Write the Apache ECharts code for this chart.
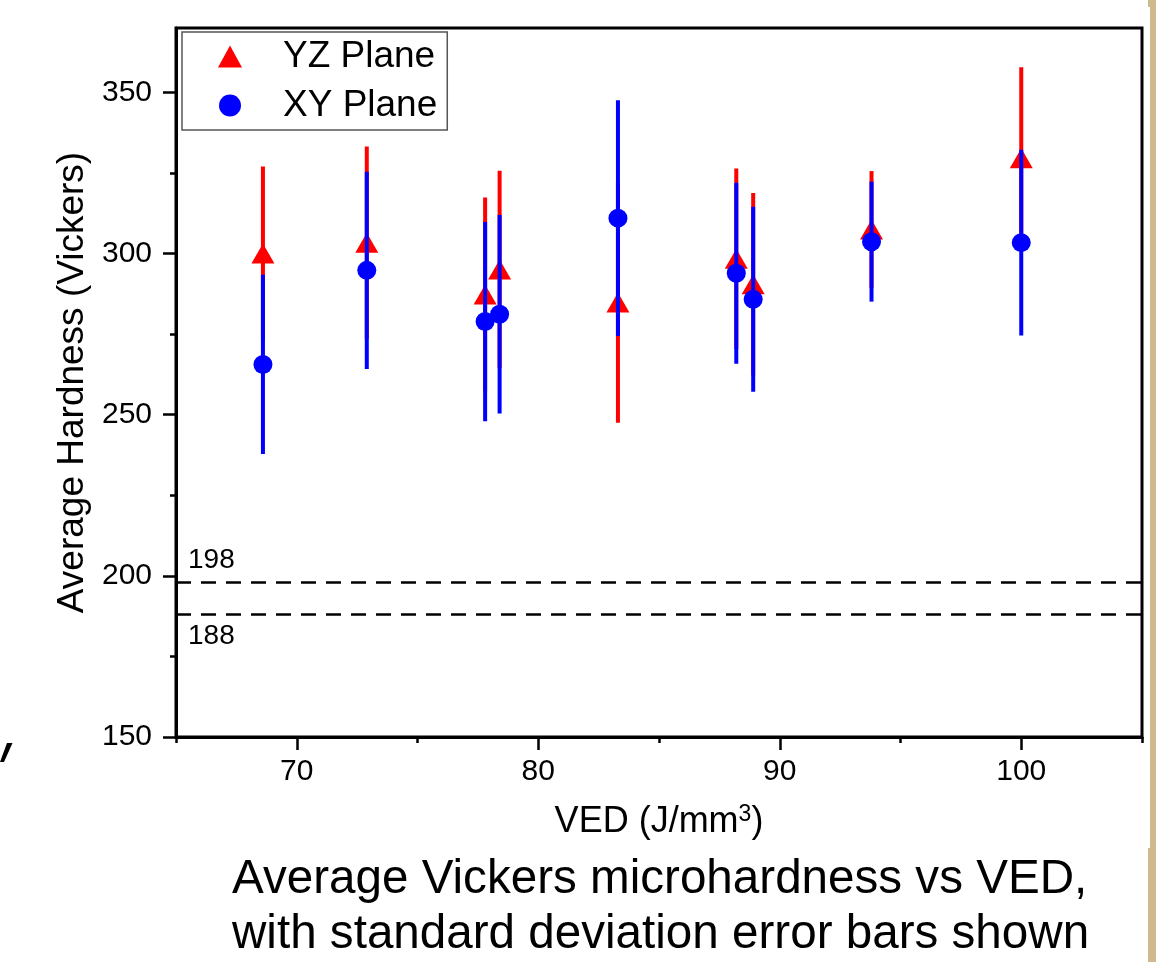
<!DOCTYPE html>
<html>
<head>
<meta charset="utf-8">
<script src="https://cdn.jsdelivr.net/npm/echarts@6/dist/echarts.min.js"></script>
<style>
  html, body { margin: 0; padding: 0; background: #fff; }
  #chart { width: 1175px; height: 962px; }
</style>
</head>
<body>
<div id="chart"></div>
<script>
// VED (J/mm3) of each build
const ved = [68.6, 72.9, 77.8, 78.4, 83.3, 88.2, 88.9, 93.8, 100.0]
// YZ plane: mean hardness and standard deviation
const yzMean = [300.0, 303.4, 287.3, 295.1, 284.8, 298.4, 290.5, 307.5, 329.6]
const yzSd = [27.0, 29.8, 30.1, 30.6, 37.3, 28.0, 28.3, 18.1, 28.2]
// XY plane: mean hardness and standard deviation
const xyMean = [265.6, 294.8, 278.9, 281.2, 311.0, 293.9, 285.8, 303.7, 303.4]
const xySd = [27.8, 30.6, 30.9, 30.8, 36.6, 28.1, 28.7, 18.6, 28.8]
// reference hardness lines
const refLines = [198, 188]

const xMajorTicks = [70, 80, 90, 100]
const xMinorTicks = [65, 75, 85, 95, 105]
const yMajorTicks = [150, 200, 250, 300, 350]
const yMinorTicks = [175, 225, 275, 325]

const FONT = '"Liberation Sans", Arial, sans-serif'

const chart = echarts.init(document.getElementById('chart'))

const errorBar = (color) => (params, api) => {
  const x = api.value(0)
  const lo = api.coord([x, api.value(1)])
  const hi = api.coord([x, api.value(2)])
  return {
    type: 'line',
    shape: { x1: lo[0], y1: lo[1], x2: hi[0], y2: hi[1] },
    style: { stroke: color, lineWidth: 4 }
  }
}

const barData = (mean, sd) => ved.map((v, i) => [v, mean[i] - sd[i], mean[i] + sd[i]])
const pointData = (mean) => ved.map((v, i) => [v, mean[i]])

const minorAxis = (min, max, ticks, position) => ({
  type: 'value',
  min,
  max,
  position,
  axisLine: { show: false },
  axisLabel: { show: false },
  splitLine: { show: false },
  axisTick: { show: true, customValues: ticks, length: 6, lineStyle: { color: '#000', width: 2.5 } }
})

const option = {
  animation: false,
  textStyle: { fontFamily: FONT },
  title: {
    text: 'Average Vickers microhardness vs VED,\nwith standard deviation error bars shown',
    left: 232,
    top: 852,
    padding: 0,
    textStyle: { fontFamily: FONT, fontSize: 47.6, fontWeight: 'normal', color: '#000', lineHeight: 55 }
  },
  legend: {
    data: ['YZ Plane', 'XY Plane'],
    orient: 'vertical',
    left: 182,
    top: 32,
    padding: [6, 10, 6, 36],
    itemWidth: 24,
    itemHeight: 22,
    itemGap: 12,
    borderColor: '#555',
    borderWidth: 1.5,
    textStyle: { fontFamily: FONT, fontSize: 37, color: '#000', padding: [0, 0, 0, 36] }
  },
  grid: {
    left: 176,
    right: 33,
    top: 28,
    bottom: 225,
    show: true,
    borderColor: '#000',
    borderWidth: 3,
    backgroundColor: 'transparent'
  },
  xAxis: [
    {
      type: 'value',
      min: 65,
      max: 105,
      position: 'bottom',
      name: 'VED (J/mm{sup|3})',
      nameLocation: 'middle',
      nameGap: 66,
      nameTextStyle: {
        fontFamily: FONT,
        fontSize: 36,
        color: '#000',
        rich: { sup: { fontFamily: FONT, fontSize: 23, color: '#000', verticalAlign: 'top', padding: [0, 0, 16, 0] } }
      },
      axisLine: { show: true, lineStyle: { color: '#000', width: 3 } },
      axisTick: { show: true, customValues: xMajorTicks, length: 13, lineStyle: { color: '#000', width: 2.5 } },
      axisLabel: { customValues: xMajorTicks, margin: 20, fontFamily: FONT, fontSize: 30, color: '#000' },
      splitLine: { show: false }
    },
    minorAxis(65, 105, xMinorTicks, 'bottom')
  ],
  yAxis: [
    {
      type: 'value',
      min: 150,
      max: 370,
      position: 'left',
      name: 'Average Hardness (Vickers)',
      nameLocation: 'middle',
      nameGap: 74,
      nameTextStyle: { fontFamily: FONT, fontSize: 37, color: '#000' },
      axisLine: { show: true, lineStyle: { color: '#000', width: 3 } },
      axisTick: { show: true, customValues: yMajorTicks, length: 13, lineStyle: { color: '#000', width: 2.5 } },
      axisLabel: { customValues: yMajorTicks, margin: 24, fontFamily: FONT, fontSize: 30, color: '#000' },
      splitLine: { show: false }
    },
    minorAxis(150, 370, yMinorTicks, 'left')
  ],
  series: [
    {
      name: 'YZ error',
      type: 'custom',
      renderItem: errorBar('#ff0000'),
      encode: { x: 0, y: [1, 2] },
      data: barData(yzMean, yzSd),
      silent: true,
      z: 1
    },
    {
      name: 'YZ Plane',
      type: 'scatter',
      symbol: 'triangle',
      symbolSize: [23, 20],
      itemStyle: { color: '#ff0000', opacity: 1 },
      data: pointData(yzMean),
      z: 2,
      markLine: {
        silent: true,
        symbol: 'none',
        lineStyle: { color: '#000', width: 2.5, type: [15, 10] },
        data: refLines.map((v, i) => ({
          yAxis: v,
          label: {
            show: true,
            formatter: String(v),
            position: i === 0 ? 'insideStartTop' : 'insideStartBottom',
            distance: [12, 8],
            fontFamily: FONT,
            fontSize: 28,
            color: '#000'
          }
        }))
      }
    },
    {
      name: 'XY error',
      type: 'custom',
      renderItem: errorBar('#0000ff'),
      encode: { x: 0, y: [1, 2] },
      data: barData(xyMean, xySd),
      silent: true,
      z: 3
    },
    {
      name: 'XY Plane',
      type: 'scatter',
      symbol: 'circle',
      symbolSize: 19,
      itemStyle: { color: '#0000ff', opacity: 1 },
      data: pointData(xyMean),
      z: 4
    }
  ],
  graphic: [
    // bits of the slide around the figure
    { type: 'polygon', shape: { points: [[7, 743], [12.5, 743], [4, 762], [0, 762]] }, style: { fill: '#000' } },
    { type: 'rect', shape: { x: 1150, y: 0, width: 6, height: 962 }, style: { fill: '#cfba8e' } },
    { type: 'rect', shape: { x: 1148, y: 0, width: 2, height: 7 }, style: { fill: '#cfba8e' } },
    { type: 'rect', shape: { x: 1148, y: 848, width: 2, height: 114 }, style: { fill: '#cfba8e' } }
  ]
}

chart.setOption(option)
</script>
</body>
</html>
